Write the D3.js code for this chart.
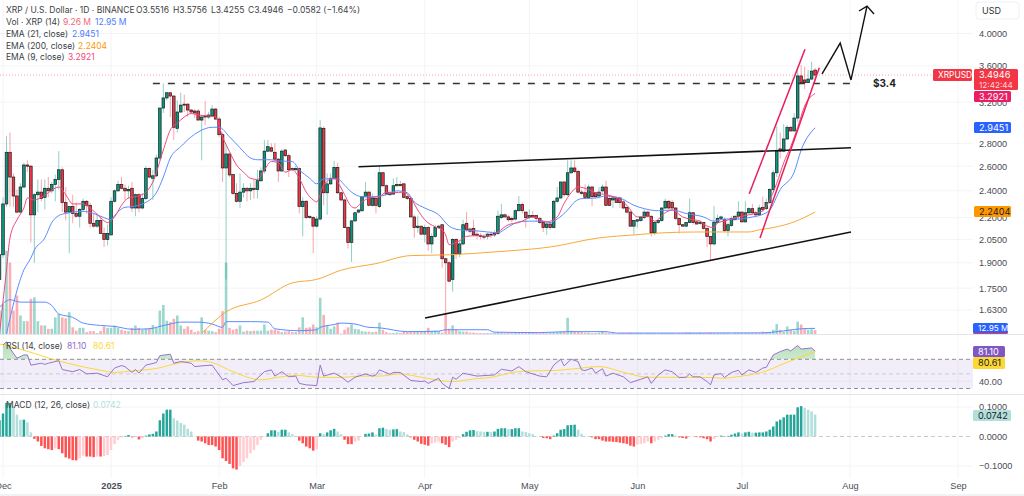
<!DOCTYPE html>
<html>
<head>
<meta charset="utf-8">
<script src="https://cdn.jsdelivr.net/npm/d3@7"></script>
<style>
  html, body { margin: 0; padding: 0; background: #fff; }
  svg { display: block; font-family: Inter, Roboto, sans-serif; }
  text { font-size: 8.5px; fill: #3d3f47; }
</style>
</head>
<body>
<svg id="chart" width="1024" height="496"></svg>
<script>
// daily candles, first entry is day -1 (30 Nov 2024), day 0 is 1 Dec 2024
const firstDay = -1;
const opens = [1.80,
  1.95,2.30,2.72,2.51,2.36,2.24,2.43,2.61,2.60,2.22,
  2.37,2.39,2.35,2.42,2.40,2.45,2.49,2.57,2.31,2.24,
  2.28,2.23,2.21,2.26,2.32,2.29,2.16,2.14,2.18,2.09,
  2.05,2.08,2.32,2.40,2.45,2.42,2.40,2.42,2.27,2.37,
  2.27,2.34,2.58,2.50,2.52,2.67,3.14,3.245,3.30,3.265,
  2.94,3.10,3.18,3.18,3.12,3.11,3.11,3.02,3.06,3.05,
  3.06,3.13,3.03,2.88,2.585,2.705,2.53,2.38,2.32,2.39,
  2.42,2.40,2.42,2.41,2.48,2.56,2.73,2.76,2.72,2.66,
  2.56,2.74,2.69,2.58,2.57,2.58,2.28,2.32,2.21,2.20,
  2.14,2.19,2.94,2.385,2.455,2.50,2.59,2.385,2.33,2.13,
  2.03,2.177,2.24,2.25,2.354,2.39,2.29,2.34,2.28,2.545,
  2.44,2.385,2.375,2.44,2.45,2.455,2.355,2.34,2.205,2.13,
  2.14,2.085,2.13,2.02,2.07,2.13,2.15,1.925,1.90,1.80,
  2.05,1.955,2.02,2.16,2.12,2.125,2.085,2.075,2.07,2.07,
  2.085,2.08,2.09,2.20,2.22,2.205,2.195,2.19,2.25,2.295,
  2.24,2.20,2.215,2.215,2.195,2.165,2.13,2.155,2.13,2.32,
  2.345,2.47,2.37,2.545,2.585,2.555,2.39,2.385,2.345,2.43,
  2.385,2.36,2.40,2.43,2.34,2.33,2.345,2.345,2.315,2.275,
  2.24,2.14,2.175,2.18,2.20,2.24,2.21,2.095,2.165,2.18,
  2.27,2.32,2.31,2.27,2.195,2.15,2.14,2.165,2.235,2.17,
  2.16,2.165,2.125,2.07,2.02,2.165,2.195,2.185,2.11,2.145,
  2.185,2.21,2.24,2.17,2.235,2.265,2.235,2.22,2.275,2.265,
  2.31,2.41,2.545,2.75,2.73,2.84,2.95,2.915,3.04,3.485,
  3.44,3.41,3.45,3.5516];
const highs = [1.96,
  2.35,2.87,2.90,2.54,2.41,2.46,2.63,2.65,2.61,2.38,
  2.49,2.49,2.49,2.51,2.47,2.53,2.73,2.59,2.43,2.28,
  2.37,2.31,2.27,2.34,2.33,2.31,2.23,2.23,2.21,2.13,
  2.15,2.35,2.41,2.48,2.51,2.45,2.44,2.47,2.38,2.38,
  2.38,2.60,2.59,2.57,2.70,3.14,3.40,3.30,3.30,3.27,
  3.22,3.30,3.28,3.19,3.13,3.13,3.13,3.06,3.21,3.10,
  3.17,3.14,3.05,2.90,2.79,2.71,2.53,2.46,2.54,2.46,
  2.43,2.46,2.49,2.57,2.59,2.83,2.83,2.80,2.80,2.67,
  2.75,2.75,2.71,2.59,2.60,2.59,2.35,2.33,2.21,2.21,
  2.21,3.02,2.96,2.54,2.54,2.645,2.63,2.39,2.34,2.14,
  2.18,2.24,2.26,2.36,2.47,2.395,2.38,2.345,2.595,2.55,
  2.45,2.40,2.50,2.51,2.48,2.46,2.37,2.345,2.22,2.21,
  2.14,2.15,2.14,2.09,2.15,2.15,2.15,1.93,1.91,2.06,
  2.06,2.04,2.185,2.24,2.13,2.185,2.11,2.09,2.085,2.095,
  2.10,2.11,2.25,2.30,2.23,2.22,2.21,2.26,2.36,2.31,
  2.24,2.26,2.25,2.22,2.205,2.17,2.165,2.165,2.33,2.43,
  2.47,2.475,2.65,2.65,2.65,2.57,2.41,2.45,2.45,2.44,
  2.39,2.43,2.45,2.48,2.37,2.355,2.355,2.355,2.33,2.28,
  2.25,2.18,2.19,2.21,2.26,2.25,2.215,2.17,2.185,2.27,
  2.34,2.33,2.33,2.275,2.20,2.155,2.17,2.34,2.24,2.175,
  2.18,2.17,2.13,2.07,2.285,2.22,2.215,2.20,2.165,2.21,
  2.215,2.32,2.245,2.32,2.275,2.30,2.25,2.295,2.355,2.34,
  2.42,2.57,2.96,2.90,2.98,2.97,2.96,3.09,3.555,3.61,
  3.59,3.555,3.65,3.5756];
const lows = [1.78,
  1.93,2.28,2.28,2.28,2.23,2.23,2.42,2.55,2.03,1.90,
  2.24,2.32,2.26,2.35,2.38,2.32,2.41,2.24,2.18,1.96,
  2.16,2.20,2.13,2.24,2.23,2.13,2.13,2.13,2.09,2.00,
  2.01,2.08,2.31,2.39,2.41,2.33,2.34,2.24,2.21,2.24,
  2.26,2.33,2.50,2.33,2.51,2.65,3.09,3.22,3.05,2.83,
  2.90,3.09,3.10,3.05,3.08,3.04,3.02,2.65,2.97,3.03,
  3.05,3.02,2.86,2.47,1.80,2.51,2.37,2.31,2.27,2.35,
  2.32,2.33,2.34,2.34,2.47,2.54,2.72,2.72,2.64,2.47,
  2.55,2.68,2.51,2.56,2.56,2.23,2.07,2.19,2.19,1.96,
  2.13,2.18,2.29,2.22,2.445,2.49,2.375,2.32,2.13,1.99,
  1.905,2.17,2.23,2.24,2.35,2.285,2.28,2.23,2.27,2.43,
  2.37,2.36,2.37,2.43,2.44,2.34,2.33,2.205,2.06,2.095,
  2.08,2.03,1.975,1.96,2.06,2.12,1.87,1.61,1.785,1.73,
  1.925,1.935,2.01,2.10,2.09,2.07,2.05,2.05,2.05,2.05,
  2.06,2.065,2.08,2.19,2.20,2.17,2.17,2.18,2.245,2.23,
  2.13,2.19,2.20,2.17,2.155,2.10,2.08,2.115,2.125,2.31,
  2.34,2.35,2.36,2.535,2.54,2.38,2.37,2.34,2.34,2.285,
  2.34,2.34,2.385,2.285,2.285,2.27,2.31,2.27,2.26,2.23,
  2.135,2.08,2.13,2.17,2.19,2.20,2.07,2.08,2.155,2.17,
  2.26,2.26,2.255,2.18,2.09,2.135,2.135,2.16,2.15,2.15,
  2.15,2.115,2.00,1.91,2.01,2.155,2.185,2.10,2.07,2.135,
  2.18,2.185,2.165,2.165,2.225,2.22,2.205,2.21,2.24,2.255,
  2.30,2.385,2.51,2.665,2.72,2.83,2.91,2.91,3.00,3.395,
  3.34,3.405,3.44,3.4255];
const closes = [1.95,
  2.30,2.72,2.51,2.36,2.24,2.43,2.61,2.60,2.22,2.37,
  2.39,2.34,2.42,2.40,2.45,2.49,2.57,2.31,2.24,2.28,
  2.23,2.21,2.26,2.32,2.29,2.16,2.14,2.18,2.09,2.05,
  2.09,2.32,2.40,2.45,2.42,2.40,2.41,2.27,2.37,2.27,
  2.34,2.58,2.51,2.52,2.67,3.14,3.245,3.30,3.265,2.95,
  3.10,3.17,3.17,3.12,3.10,3.09,3.02,3.05,3.05,3.07,
  3.13,3.03,2.88,2.585,2.705,2.527,2.38,2.32,2.39,2.42,
  2.40,2.42,2.41,2.48,2.56,2.73,2.77,2.73,2.66,2.56,
  2.73,2.69,2.57,2.57,2.58,2.28,2.32,2.20,2.20,2.14,
  2.19,2.944,2.385,2.455,2.50,2.59,2.385,2.33,2.13,2.03,
  2.177,2.235,2.255,2.354,2.39,2.29,2.34,2.29,2.545,2.44,
  2.375,2.37,2.44,2.45,2.44,2.35,2.34,2.205,2.13,2.14,
  2.085,2.13,2.02,2.07,2.13,2.14,1.925,1.90,1.79,2.05,
  1.955,2.02,2.15,2.115,2.105,2.08,2.075,2.07,2.065,2.085,
  2.08,2.09,2.21,2.22,2.205,2.185,2.185,2.25,2.295,2.25,
  2.20,2.215,2.205,2.195,2.165,2.13,2.155,2.13,2.32,2.345,
  2.47,2.37,2.545,2.585,2.555,2.39,2.38,2.35,2.43,2.355,
  2.355,2.39,2.43,2.29,2.29,2.345,2.31,2.31,2.27,2.24,
  2.14,2.18,2.185,2.20,2.24,2.21,2.095,2.165,2.18,2.27,
  2.32,2.27,2.27,2.195,2.15,2.14,2.165,2.235,2.165,2.155,
  2.165,2.125,2.07,2.02,2.165,2.195,2.205,2.11,2.15,2.195,
  2.21,2.24,2.17,2.235,2.265,2.235,2.22,2.27,2.26,2.31,
  2.41,2.545,2.73,2.73,2.84,2.95,2.915,3.04,3.485,3.41,
  3.41,3.45,3.54,3.4946];
// volume in millions, same days as the candles
const volumes = [50,
  64,176,151,50,82,40,28,28,75,78,
  28,19,19,12,12,36,43,36,34,47,
  15,8,14,14,5,7,7,3,7,17,
  14,14,19,14,10,8,7,14,19,14,
  10,12,14,20,14,50,62,29,26,33,
  40,19,12,17,10,5,7,36,10,8,
  7,5,12,49,151,14,10,12,19,6,
  8,7,8,8,8,21,8,10,10,8,
  5,6,7,5,5,15,36,14,15,21,
  15,77,41,19,12,17,25,2,10,15,
  21,12,11,7,6,6,5,6,25,10,
  5,3,3,4,3,6,6,6,6,6,
  6,6,14,7,8,7,4,43,12,19,
  10,7,6,6,4,4,3,3,3,3,
  3,4,5,4,3,3,3,4,5,3,
  3,4,4,3,3,3,3,4,5,5,
  6,6,35,8,7,6,5,4,4,3,
  3,4,7,4,3,3,2,3,3,3,
  4,3,3,3,2,3,3,3,2,3,
  3,3,3,2,3,3,4,4,3,3,
  4,3,3,4,3,3,3,3,3,2,
  3,3,3,3,3,3,3,3,6,4,
  4,10,22,10,6,17,10,8,27,21,
  12,10,11,9.26];
// MACD histogram, same days as the candles
const macdHist = [.055,
  .078,.114,.114,.103,.074,.057,.057,.048,.014,-.008,
  -.017,-.032,-.040,-.043,-.046,-.040,-.043,-.057,-.071,-.075,
  -.080,-.081,-.074,-.065,-.068,-.068,-.070,-.068,-.068,-.066,
  -.063,-.046,-.025,-.011,-.003,.002,.005,-.003,-.001,-.010,
  -.006,.003,.007,.009,.017,.055,.078,.091,.091,.062,
  .054,.046,.040,.026,.017,.001,-.014,-.017,-.023,-.029,
  -.029,-.034,-.046,-.074,-.083,-.093,-.108,-.112,-.100,-.086,
  -.074,-.057,-.046,-.029,-.011,-.002,.011,.021,.021,.015,
  .023,.023,.014,.008,.002,-.014,-.023,-.034,-.040,-.048,
  -.043,.011,.008,.014,.021,.026,.017,.008,-.011,-.026,
  -.026,-.017,-.014,-.001,.009,.010,.014,.006,.028,.030,
  .025,.023,.024,.025,.017,.015,.007,-.003,-.011,-.017,
  -.025,-.028,-.031,-.023,-.021,-.017,-.023,-.028,-.036,-.017,
  -.011,-.005,.008,.016,.021,.022,.018,.017,.016,.016,
  .015,.017,.026,.028,.028,.025,.025,.028,.028,.017,
  .015,.011,.008,.002,.001,-.005,-.006,-.009,.003,.011,
  .023,.025,.038,.039,.040,.023,.009,.002,.001,-.003,
  -.009,-.009,-.014,-.017,-.017,-.018,-.019,-.021,-.023,-.025,
  -.031,-.034,-.028,-.025,-.023,-.017,-.023,-.017,-.011,-.006,
  .003,.008,.008,.003,-.003,-.005,-.007,-.003,-.002,-.002,
  -.003,-.006,-.009,-.017,-.008,-.002,.003,-.001,.002,.006,
  .010,.014,.010,.014,.016,.013,.013,.014,.014,.017,
  .023,.034,.051,.057,.065,.074,.074,.074,.099,.103,
  .097,.091,.085,.0742];

// moving averages at the listed days
const ema9Days = [-1,1,2,4,6,7,9,11,13,16,18,20,23,25,28,30,32,34,36,38,41,43,46,48,50,52,54,56,59,61,63,65,67,69,71,73,75,77,79,81,83,85,87,89,90,92,95,96,98,100,101,103,105,108,110,112,115,117,119,121,124,126,127,128,130,132,133,136,139,142,145,148,152,156,159,161,163,165,168,170,173,176,179,182,185,187,190,192,195,197,200,202,204,205,207,210,214,218,220,222,224,226,228,230,233];
const ema9Vals = [1.51,1.857,2.06,2.184,2.27,2.345,2.33,2.35,2.385,2.43,2.37,2.30,2.30,2.27,2.20,2.165,2.205,2.29,2.345,2.355,2.39,2.47,2.74,2.925,2.99,3.05,3.085,3.07,3.06,3.05,2.86,2.725,2.61,2.55,2.50,2.49,2.57,2.64,2.63,2.55,2.57,2.50,2.39,2.33,2.315,2.447,2.50,2.47,2.37,2.28,2.27,2.315,2.345,2.355,2.39,2.385,2.39,2.345,2.255,2.185,2.135,2.115,2.08,2.015,2.03,2.055,2.07,2.075,2.07,2.10,2.15,2.165,2.205,2.17,2.205,2.305,2.385,2.43,2.41,2.385,2.37,2.345,2.29,2.205,2.21,2.175,2.235,2.255,2.205,2.19,2.175,2.14,2.13,2.165,2.175,2.20,2.22,2.25,2.33,2.46,2.63,2.77,2.95,3.16,3.2921];
const ema21Days = [1,6,8,9,12,14,16,18,23,26,29,31,32,35,37,40,44,46,48,51,54,56,60,62,65,68,71,73,77,79,83,85,88,90,92,96,98,100,103,106,110,113,116,118,121,125,128,131,135,139,142,145,148,151,154,157,159,162,164,166,170,173,177,181,184,188,192,196,201,204,207,211,214,219,220,223,227,229,233];
const ema21Vals = [1.51,1.857,1.93,1.98,2.06,2.165,2.215,2.23,2.245,2.23,2.20,2.185,2.215,2.275,2.28,2.30,2.385,2.51,2.67,2.77,2.86,2.905,2.95,2.95,2.86,2.76,2.67,2.655,2.655,2.645,2.64,2.57,2.50,2.455,2.495,2.495,2.445,2.39,2.355,2.355,2.37,2.40,2.385,2.315,2.27,2.22,2.14,2.115,2.11,2.10,2.095,2.135,2.17,2.175,2.175,2.165,2.19,2.255,2.315,2.34,2.345,2.36,2.345,2.29,2.265,2.25,2.255,2.23,2.205,2.175,2.19,2.19,2.20,2.235,2.255,2.41,2.55,2.74,2.9451];
const ema200Days = [57,64,74,83,90,97,107,117,128,142,157,171,181,190,200,214,217,221,227,233];
const ema200Vals = [1.51,1.62,1.684,1.78,1.80,1.855,1.895,1.945,1.95,1.97,2.00,2.06,2.08,2.095,2.10,2.10,2.115,2.13,2.17,2.2404];
const volMaDays = [-1,2,5,9,12,14,16,20,23,28,32,37,42,45,48,51,56,60,63,64,71,76,78,85,90,91,95,97,101,105,108,116,125,127,139,141,154,162,173,176,194,218,221,227,229,233];
const volMaVals = [57,73,68,68,68,61,43,36,24,19,17,11,12,17,22,26,26,22,15,27,27,26,12,8,10,15,21,24,22,15,14,6,7,10,10,5,4,6,6,3,3,3.5,5,10.5,12,12.95];

const rsiDays = [0,1,2,4,6,7,8,11,12,13,16,17,20,22,24,27,30,32,34,35,37,38,39,41,44,45,48,49,51,54,55,58,60,63,64,66,69,72,75,77,78,80,82,84,85,87,90,91,92,95,97,99,101,104,106,107,108,111,112,114,117,120,121,122,125,126,128,129,130,132,136,141,143,146,148,150,154,156,158,160,161,163,165,166,167,169,170,172,173,175,178,180,183,185,186,188,190,192,194,196,197,198,200,202,203,204,206,207,209,211,212,214,216,218,219,221,223,225,226,228,229,232,233];
const rsiVals = [89.7,94,85,71.5,76,76,62,64.6,63,64.6,68,56,53,56,50,51,46,58,61.4,60,52,56,51,62,65.5,75,77,64.6,67,64.6,60,61.4,62,42,44,34,38,39.5,53,55.5,47,53,46,47,37,35,34,62,47,51,46,38.6,45.4,50,47,48.6,55.5,49.5,52,52,41,39.5,40.4,37,44,37,30,45.4,42.7,51,47,48.6,56.4,54,60,53,47,46,62,70,61,70,67,55.5,54.6,58,51,57,47,51,46,38,42.7,46,37,48.6,55.5,53,45,45.4,50,46,46,39.5,35,48.6,50.5,45,52,55,48.6,55.5,52,58,59,76,80.6,84,81.5,89,84,85.6,81.1];
const rsiMaDays = [-1,2,9,15,22,28,32,37,44,51,56,60,66,74,79,84,90,97,102,108,114,120,129,135,141,145,151,158,164,171,179,185,194,204,206,212,219,223,228,233];
const rsiMaVals = [91,87.5,78,69,60.7,55,52,54,57.4,65.5,68,65.5,53,41.8,45.5,48,45.5,45,47,47,50,45.4,39.5,43,46,51,54,54.6,57,60,51,45.4,45.4,45,44,47,54,62,71.5,80.61];

// drawn trend lines: [day, price]
const resistanceLine = [[102, 2.595], [243.3, 2.76]];
const supportLine = [[121.1, 1.588], [243.3, 2.10]];
const levelLine = [[43, 3.40], [245.3, 3.40]];
const channelUpper = [[214.1, 2.377], [230.1, 3.80]];
const channelLower = [[217.2, 2.06], [234.2, 3.58]];
const forecastPath = [[235, 3.508], [240.2, 3.878], [243.3, 3.44], [247.9, 4.373]];
const forecastHead = [[245.6, 4.303], [247.9, 4.373], [249.9, 4.262]];

const monthDays = [0, 31, 62, 90, 121, 151, 182, 212, 243, 274];
const monthLabels = ["Dec", "2025", "Feb", "Mar", "Apr", "May", "Jun", "Jul", "Aug", "Sep"];
const priceTicks = [4, 3.6, 3.2, 2.8, 2.6, 2.4, 2.2, 2.05, 1.9, 1.75, 1.63];
const rsiGuides = [70, 50, 30];

const svg = d3.select("#chart");
const paneRight = 973;

const x = d3.scaleLinear().domain([0, 274]).range([3, 958]);
const yPrice = d3.scaleLog().domain([4, 1.63]).range([33.5, 310]);
const yVol = d3.scaleLinear().domain([0, 100]).range([334.5, 286.9]);
const yRsi = d3.scaleLinear().domain([70, 30]).range([359.3, 388.5]);
const yMacd = d3.scaleLinear().domain([0.1, -0.1]).range([407, 466]);

const green = "#089981", red = "#f23645", gridColor = "#f3f4f6", sepColor = "#e3e5ec";
const axisFont = "9.2px", axisColor = "#4a4c55";

const defs = svg.append("defs");
defs.append("clipPath").attr("id", "mainClip").append("rect")
  .attr("width", paneRight).attr("height", 334);
defs.append("clipPath").attr("id", "rsiTop").append("rect")
  .attr("y", 335).attr("width", paneRight).attr("height", yRsi(70) - 335);
const grad = defs.append("linearGradient").attr("id", "rsiGreen")
  .attr("x1", 0).attr("x2", 0).attr("y1", 0).attr("y2", 1);
grad.append("stop").attr("offset", "0%").attr("stop-color", "#4caf50").attr("stop-opacity", 0.42);
grad.append("stop").attr("offset", "100%").attr("stop-color", "#4caf50").attr("stop-opacity", 0.03);

// grid
const grid = svg.append("g");
grid.selectAll("line.v").data(monthDays).join("line")
  .attr("x1", d => x(d)).attr("x2", d => x(d))
  .attr("y1", 0).attr("y2", 478)
  .attr("stroke", gridColor);
grid.selectAll("line.p").data(priceTicks).join("line").attr("class", "p")
  .attr("x1", 0).attr("x2", paneRight)
  .attr("y1", d => yPrice(d)).attr("y2", d => yPrice(d))
  .attr("stroke", gridColor);
grid.selectAll("line.m").data([0.1, -0.1]).join("line").attr("class", "m")
  .attr("x1", 0).attr("x2", paneRight)
  .attr("y1", d => yMacd(d)).attr("y2", d => yMacd(d))
  .attr("stroke", gridColor);
grid.append("line").attr("x1", 0).attr("x2", paneRight)
  .attr("y1", yRsi(40)).attr("y2", yRsi(40)).attr("stroke", gridColor);

// pane separators
[334.5, 394.5].forEach(y => {
  svg.append("line").attr("x1", 0).attr("x2", 1024).attr("y1", y).attr("y2", y)
    .attr("stroke", sepColor);
});
svg.append("line").attr("x1", 0).attr("x2", 1024).attr("y1", 495).attr("y2", 495)
  .attr("stroke", sepColor);

const days = d3.range(opens.length).map(i => i + firstDay);
const isUp = i => closes[i] >= opens[i];

const main = svg.append("g").attr("clip-path", "url(#mainClip)");

// volume
main.append("g").selectAll("rect").data(days).join("rect")
  .attr("x", d => x(d) - 1.3).attr("width", 2.6)
  .attr("y", (d, i) => yVol(volumes[i]))
  .attr("height", (d, i) => yVol(0) - yVol(volumes[i]))
  .attr("fill", (d, i) => isUp(i) ? green : red)
  .attr("opacity", 0.4);

const smaLine = (xs, ys, yScale) => d3.line()
  .x(d => x(xs[d])).y(d => yScale(ys[d]))
  .curve(d3.curveMonotoneX)(d3.range(xs.length));

main.append("path").attr("d", smaLine(volMaDays, volMaVals, yVol))
  .attr("fill", "none").attr("stroke", "#5b8cff").attr("stroke-width", 1);

// price last line
svg.append("line").attr("x1", 0).attr("x2", 933)
  .attr("y1", yPrice(closes[closes.length - 1])).attr("y2", yPrice(closes[closes.length - 1]))
  .attr("stroke", "#f23645").attr("stroke-opacity", 0.45)
  .attr("stroke-dasharray", "1 2");

// wicks then bodies
main.append("g").selectAll("line").data(days).join("line")
  .attr("x1", d => x(d)).attr("x2", d => x(d))
  .attr("y1", (d, i) => yPrice(highs[i])).attr("y2", (d, i) => yPrice(lows[i]))
  .attr("stroke", (d, i) => isUp(i) ? green : red)
  .attr("stroke-opacity", 0.45)
  .attr("stroke-width", 1);
main.append("g").selectAll("rect").data(days).join("rect")
  .attr("x", d => x(d) - 1.3).attr("width", 2.6)
  .attr("y", (d, i) => yPrice(Math.max(opens[i], closes[i])))
  .attr("height", (d, i) => Math.max(0.8, Math.abs(yPrice(opens[i]) - yPrice(closes[i]))))
  .attr("fill", (d, i) => isUp(i) ? green : red)
  .attr("stroke", "#1c1c1c").attr("stroke-width", 0.7);

// EMAs
[[ema200Days, ema200Vals, "#f9a83a"], [ema21Days, ema21Vals, "#5b8cff"], [ema9Days, ema9Vals, "#f2497c"]]
  .forEach(([xs, ys, color]) => {
    main.append("path").attr("d", smaLine(xs, ys, yPrice))
      .attr("fill", "none").attr("stroke", color).attr("stroke-width", 1);
  });

// trend lines
const trend = d3.line().x(d => x(d[0])).y(d => yPrice(d[1]));
const drawTrend = (pts, color, width, dash) => {
  const p = svg.append("path").attr("d", trend(pts))
    .attr("fill", "none").attr("stroke", color).attr("stroke-width", width);
  if (dash) p.attr("stroke-dasharray", dash);
};
drawTrend(resistanceLine, "#111", 1.6);
drawTrend(supportLine, "#111", 1.6);
drawTrend(levelLine, "#333", 1.5, "7 8");
drawTrend(channelUpper, "#e91e5a", 1.5);
drawTrend(channelLower, "#e91e5a", 1.5);
drawTrend(forecastPath, "#111", 1.4);
drawTrend(forecastHead, "#111", 1.4);

svg.append("text").attr("x", 873).attr("y", 87)
  .style("font-size", "10px").style("font-weight", 700).style("fill", "#222")
  .text("$3.4");

// RSI pane
svg.append("rect").attr("x", 0).attr("width", paneRight)
  .attr("y", yRsi(70)).attr("height", yRsi(30) - yRsi(70))
  .attr("fill", "#7e57c2").attr("fill-opacity", 0.1);
rsiGuides.forEach((g, i) => {
  svg.append("line").attr("x1", 0).attr("x2", paneRight)
    .attr("y1", yRsi(g)).attr("y2", yRsi(g))
    .attr("stroke", i === 1 ? "#c9c9d2" : "#8f8f98").attr("stroke-dasharray", "4 3");
});
const rsiIdx = d3.range(rsiDays.length);
svg.append("path")
  .datum(rsiIdx)
  .attr("clip-path", "url(#rsiTop)")
  .attr("d", d3.area().x(i => x(rsiDays[i])).y0(yRsi(70)).y1(i => yRsi(rsiVals[i])))
  .attr("fill", "url(#rsiGreen)");
svg.append("path")
  .attr("d", d3.line().x(i => x(rsiMaDays[i])).y(i => yRsi(rsiMaVals[i])).curve(d3.curveMonotoneX)(d3.range(rsiMaDays.length)))
  .attr("fill", "none").attr("stroke", "#fdd835").attr("stroke-width", 1);
svg.append("path")
  .attr("d", d3.line().x(i => x(rsiDays[i])).y(i => yRsi(rsiVals[i]))(rsiIdx))
  .attr("fill", "none").attr("stroke", "#9575cd").attr("stroke-width", 1);

// MACD pane
svg.append("line").attr("x1", 0).attr("x2", paneRight)
  .attr("y1", yMacd(0)).attr("y2", yMacd(0))
  .attr("stroke", "#c9cbd2").attr("stroke-dasharray", "4 3");
const macdColor = (v, i) => {
  const prev = i > 0 ? macdHist[i - 1] : v;
  if (v >= 0) return v >= prev ? "#26a69a" : "#b2dfdb";
  return v <= prev ? "#ff5252" : "#ffcdd2";
};
svg.append("g").selectAll("rect").data(macdHist).join("rect")
  .attr("x", (d, i) => x(days[i]) - 1.25).attr("width", 2.5)
  .attr("y", d => yMacd(Math.max(d, 0)))
  .attr("height", d => Math.abs(yMacd(d) - yMacd(0)))
  .attr("fill", macdColor);

// axes
const styleAxis = g => {
  g.select(".domain").remove();
  g.selectAll("text").attr("font-family", null)
    .style("font-size", axisFont).style("fill", axisColor);
};
const priceAxis = d3.axisRight(yPrice).tickValues(priceTicks)
  .tickFormat(d3.format(".4f")).tickSize(0).tickPadding(0);
svg.append("g").attr("transform", "translate(979,0)").call(priceAxis).call(styleAxis);

const rsiAxis = d3.axisRight(yRsi).tickValues([40]).tickFormat(d3.format(".2f")).tickSize(0).tickPadding(0);
svg.append("g").attr("transform", "translate(979,0)").call(rsiAxis).call(styleAxis);

const macdAxis = d3.axisRight(yMacd).tickValues([0.1, 0, -0.1])
  .tickFormat(d => d3.format(".4f")(d).replace("-", "\u2212")).tickSize(0).tickPadding(0);
svg.append("g").attr("transform", "translate(979,0)").call(macdAxis).call(styleAxis);

const timeAxis = d3.axisBottom(x).tickValues(monthDays)
  .tickFormat((d, i) => monthLabels[i]).tickSize(0).tickPadding(0);
svg.append("g").attr("transform", "translate(0,482)").call(timeAxis).call(styleAxis)
  .call(g => g.selectAll("text").style("font-weight", d => d === 31 ? 700 : 400));

// USD button
svg.append("rect").attr("x", 976).attr("y", 2).attr("width", 43).attr("height", 17).attr("rx", 3)
  .attr("fill", "#fff").attr("stroke", "#eef0f3");
svg.append("text").attr("x", 982).attr("y", 14).style("font-size", "9px").style("fill", "#333").text("USD");

// value tags
const tag = (x0, y0, w, h, color, label, textColor, size) => {
  svg.append("rect").attr("x", x0).attr("y", y0).attr("width", w).attr("height", h)
    .attr("rx", 1.5).attr("fill", color);
  if (label) {
    svg.append("text").attr("x", x0 + 5).attr("y", y0 + h / 2 + 3.2)
      .style("font-size", size || axisFont).style("fill", textColor || "#fff").text(label);
  }
};
tag(933, 69, 39, 12, "#f23645", "XRPUSD", "#fff", "8.4px");
tag(974, 69, 44, 21, "#f23645");
svg.append("text").attr("x", 979).attr("y", 78.3).style("font-size", axisFont).style("fill", "#fff").text("3.4946");
svg.append("text").attr("x", 979).attr("y", 88).style("font-size", "8.2px").style("fill", "#ffd5d9").text("12:42:44");
tag(974, 91, 37, 11, "#e91e63", "3.2921");
tag(974, 122, 37, 11, "#2962ff", "2.9451");
tag(974, 206, 37, 11, "#ff9800", "2.2404", "#222");
tag(973, 332, 35, 2, "#f23645");
tag(973, 323, 35, 10, "#2962ff", "12.95 M", "#fff", "8.2px");
tag(973, 346, 32, 11, "#7e57c2", "81.10");
tag(973, 357, 32, 12, "#fdd835", "80.61", "#222");
tag(973, 410, 38, 11, "#b2dfdb", "0.0742", "#222");

// legend
const legend = (px, py, str, color) => svg.append("text")
  .attr("x", px).attr("y", py).style("fill", color || "#3d3f47").text(str);
legend(6, 13, "XRP / U.S. Dollar \u00b7 1D \u00b7 BINANCE");
legend(136, 13, "O3.5516");
legend(173, 13, "H3.5756");
legend(211, 13, "L3.4255");
legend(248, 13, "C3.4946");
legend(287, 13, "\u22120.0582 (\u22121.64%)");
legend(6, 25, "Vol \u00b7 XRP (14)");
legend(63, 25, "9.26 M", "#f2697c");
legend(95, 25, "12.95 M", "#4d7dff");
legend(6, 36.5, "EMA (21, close)");
legend(72, 36.5, "2.9451", "#4d7dff");
legend(6, 48.5, "EMA (200, close)");
legend(78, 48.5, "2.2404", "#ff9800");
legend(6, 60, "EMA (9, close)");
legend(68, 60, "3.2921", "#f2497c");
legend(6, 349, "RSI (14, close)");
legend(67, 349, "81.10", "#8e6bc9");
legend(93, 349, "80.61", "#fdd835");
legend(6, 408, "MACD (12, 26, close)");
legend(93, 408, "0.0742", "#b2dfdb");
</script>
</body>
</html>
